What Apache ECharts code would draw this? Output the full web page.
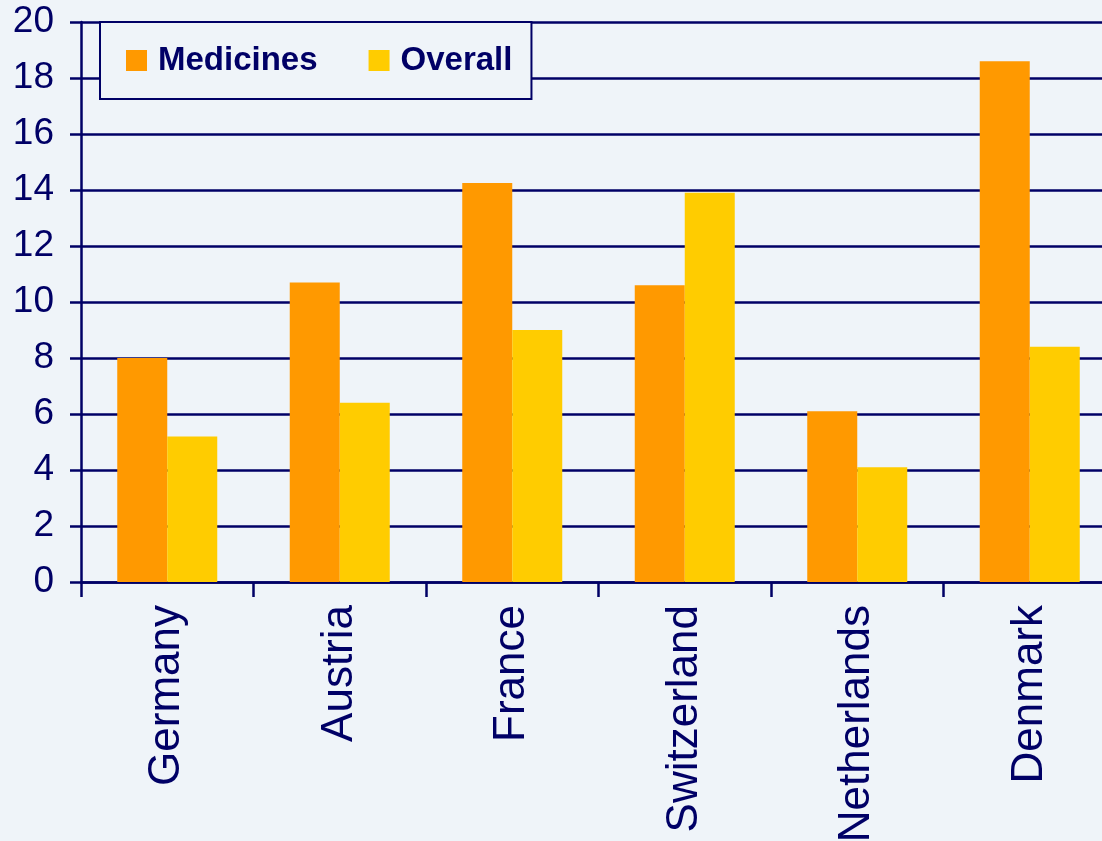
<!DOCTYPE html>
<html>
<head>
<meta charset="utf-8">
<style>
  html, body { margin: 0; padding: 0; background: #EFF4F9; overflow: hidden; }
  #chart { position: absolute; left: 0; top: 0; width: 1102px; height: 841px; }
</style>
<script src="https://cdn.jsdelivr.net/npm/echarts@6/dist/echarts.min.js"></script>
</head>
<body>
<div id="chart"></div>
<script>
// Countries along the x axis
const countries = ['Germany', 'Austria', 'France', 'Switzerland', 'Netherlands', 'Denmark'];
// Percentage values per country
const medicines = [8.0, 10.7, 14.25, 10.6, 6.1, 18.6];
const overall = [5.2, 6.4, 9.0, 13.9, 4.1, 8.4];
// Y axis range and step
const yMin = 0, yMax = 20, yStep = 2;

const navy = '#000066';
const fontFamily = '"Liberation Sans", Arial, sans-serif';

const chart = echarts.init(document.getElementById('chart'), null, { width: 1102, height: 841 });
chart.setOption({
  backgroundColor: '#EFF4F9',
  animation: false,
  textStyle: { fontFamily: fontFamily, color: navy },
  legend: {
    left: 100,
    top: 22,
    orient: 'horizontal',
    padding: [22, 19, 22, 26],
    itemGap: 51,
    itemWidth: 21,
    itemHeight: 21,
    borderColor: navy,
    borderWidth: 2,
    backgroundColor: '#EFF4F9',
    icon: 'rect',
    textStyle: {
      fontFamily: fontFamily,
      fontSize: 33,
      fontWeight: 'bold',
      color: navy,
      padding: [2, 0, 0, 6]
    },
    data: ['Medicines', 'Overall']
  },
  grid: {
    left: 81,
    top: 22,
    width: 1035,
    height: 560,
    containLabel: false,
    outerBoundsMode: 'none'
  },
  xAxis: {
    type: 'category',
    data: countries,
    boundaryGap: true,
    axisLine: { show: true, lineStyle: { color: navy, width: 2.5 } },
    axisTick: { show: true, length: 15, inside: false, alignWithLabel: false, lineStyle: { color: navy, width: 2.5 } },
    axisLabel: {
      rotate: 90,
      margin: 23,
      fontSize: 44,
      fontFamily: fontFamily,
      color: navy,
      interval: 0
    }
  },
  yAxis: {
    type: 'value',
    min: yMin,
    max: yMax,
    interval: yStep,
    axisLine: { show: true, lineStyle: { color: navy, width: 2.5 } },
    axisTick: { show: true, length: 11, inside: false, lineStyle: { color: navy, width: 2.5 } },
    axisLabel: {
      margin: 27,
      fontSize: 37,
      fontFamily: fontFamily,
      color: navy
    },
    splitLine: { show: true, lineStyle: { color: navy, width: 2.5 } }
  },
  series: [
    {
      name: 'Medicines',
      type: 'bar',
      data: medicines,
      barWidth: 50,
      barGap: '0%',
      itemStyle: { color: '#FF9900' }
    },
    {
      name: 'Overall',
      type: 'bar',
      data: overall,
      barWidth: 50,
      barGap: '0%',
      itemStyle: { color: '#FFCC00' }
    }
  ]
});
</script>
</body>
</html>
